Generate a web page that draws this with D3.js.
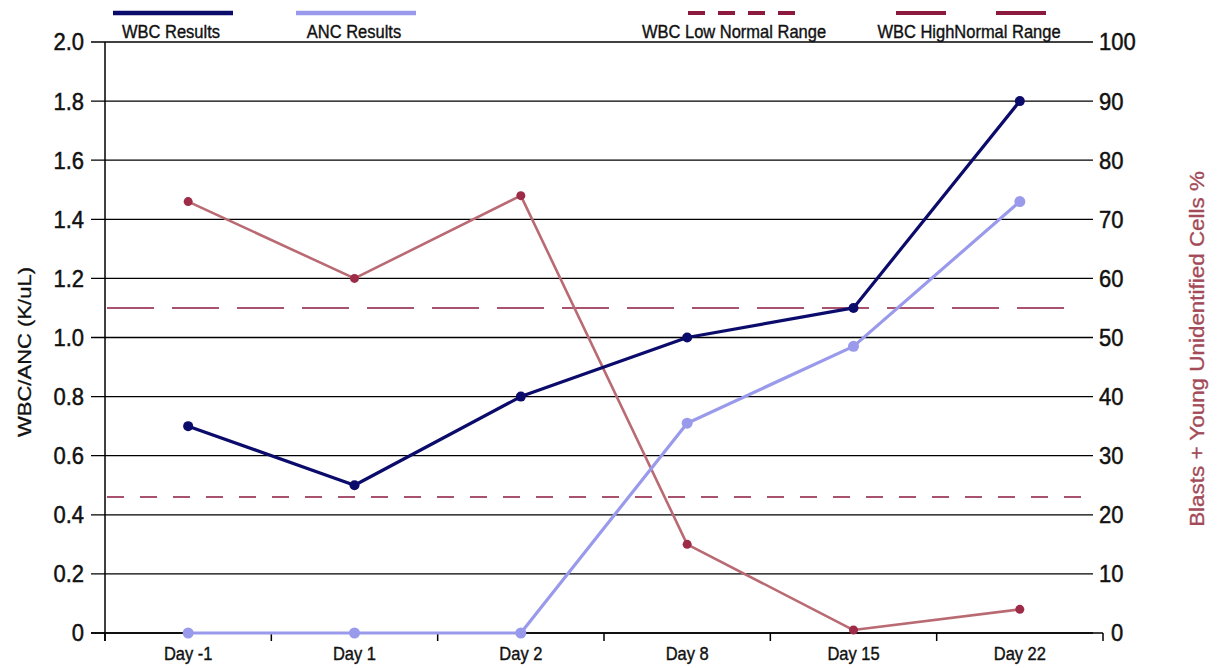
<!DOCTYPE html>
<html>
<head>
<meta charset="utf-8">
<script src="https://cdn.jsdelivr.net/npm/d3@7"></script>
<style>
  html, body { margin: 0; padding: 0; background: #fff; }
  svg { display: block; font-family: "Liberation Sans", Arial, sans-serif; }
</style>
</head>
<body>
<svg id="chart" width="1223" height="668"></svg>
<script>
// Categories and series
const days = ["Day -1", "Day 1", "Day 2", "Day 8", "Day 15", "Day 22"];
const wbc = [0.7, 0.5, 0.8, 1.0, 1.1, 1.8];
const anc = [0, 0, 0, 0.71, 0.97, 1.46];
const blasts = [73, 60, 74, 15, 0.5, 4];
const wbcLowNormal = 0.46;
const wbcHighNormal = 1.1;
const leftTicks = [0, 0.2, 0.4, 0.6, 0.8, 1.0, 1.2, 1.4, 1.6, 1.8, 2.0];
const rightTicks = [0, 10, 20, 30, 40, 50, 60, 70, 80, 90, 100];

const svg = d3.select("#chart");
const plotLeft = 105, plotRight = 1103, plotTop = 42, plotBottom = 633, gridEnd = 1093;

const x = d3.scaleBand().domain(days).range([plotLeft, plotRight]);
const yL = d3.scaleLinear().domain([0, 2]).range([plotBottom, plotTop]);
const yR = d3.scaleLinear().domain([0, 100]).range([plotBottom, plotTop]);
const cx = d => x(d) + x.bandwidth() / 2;

const cNavy = "#0b0b6b", cLight = "#9a9aec", cBlast = "#b96a73", cBlastPt = "#9e2b47", cRange = "#8c1a3e";

// Text helper: narrow, tall lettering via a scale transform, slightly heavier stroke
function label(parent, px, py, str, o) {
  const fill = o.fill || "#111";
  const g = parent.append("g")
    .attr("transform", `translate(${px},${py}) rotate(${o.rotate || 0}) scale(${o.sx || 1},${o.sy || 1})`);
  g.append("text").attr("text-anchor", o.anchor || "middle").attr("dy", o.dy || "0.35em")
    .attr("font-size", o.size).attr("fill", fill)
    .attr("stroke", fill).attr("stroke-width", o.stroke == null ? 0.45 : o.stroke)
    .text(str);
  return g;
}

// Horizontal gridlines (from left tick to right label side)
svg.append("g").selectAll("line").data(leftTicks).join("line")
  .attr("x1", plotLeft - 14).attr("x2", gridEnd)
  .attr("y1", d => yL(d)).attr("y2", d => yL(d))
  .attr("stroke", "#000").attr("stroke-width", 1.3);

// Left axis line and labels
svg.append("line").attr("x1", plotLeft).attr("x2", plotLeft)
  .attr("y1", yL(2)).attr("y2", plotBottom + 8).attr("stroke", "#000").attr("stroke-width", 1.5);
const gL = svg.append("g");
leftTicks.forEach(d => label(gL, 84, yL(d), d === 0 ? "0" : d3.format(".1f")(d),
  { size: 22, anchor: "end", sy: 1.1 }));

// Right axis labels
const gR = svg.append("g");
rightTicks.forEach(d => label(gR, d === 0 ? 1111 : 1099, yR(d), String(d),
  { size: 22, anchor: "start", sy: 1.1 }));

// Bottom axis with tick marks at band edges
const gB = svg.append("g").attr("transform", `translate(0,${plotBottom})`);
gB.append("line").attr("x1", plotLeft - 14).attr("x2", plotRight).attr("y1", 0).attr("y2", 0)
  .attr("stroke", "#000").attr("stroke-width", 1.5);
gB.selectAll("line.tk").data(d3.range(days.length + 1)).join("line").attr("class", "tk")
  .attr("x1", i => plotLeft + i * x.bandwidth()).attr("x2", i => plotLeft + i * x.bandwidth())
  .attr("y1", 0).attr("y2", 8).attr("stroke", "#000").attr("stroke-width", 1.5);
days.forEach(d => label(gB, cx(d), 20, d, { size: 16.5, sy: 1.15, stroke: 0.35 }));

// Normal range reference lines
svg.append("line").attr("x1", plotLeft + 2).attr("x2", gridEnd - 12)
  .attr("y1", yL(wbcHighNormal)).attr("y2", yL(wbcHighNormal))
  .attr("stroke", cRange).attr("stroke-width", 1.6).attr("stroke-dasharray", "47 18");
svg.append("line").attr("x1", plotLeft + 2).attr("x2", gridEnd - 12)
  .attr("y1", yL(wbcLowNormal)).attr("y2", yL(wbcLowNormal))
  .attr("stroke", cRange).attr("stroke-width", 1.6).attr("stroke-dasharray", "17 16");

// Series
function series(values, scale, lineColor, ptColor, width, r) {
  const line = d3.line().x((d, i) => cx(days[i])).y(d => scale(d));
  svg.append("path").datum(values).attr("d", line)
    .attr("fill", "none").attr("stroke", lineColor).attr("stroke-width", width)
    .attr("stroke-linejoin", "round");
  svg.append("g").selectAll("circle").data(values).join("circle")
    .attr("cx", (d, i) => cx(days[i])).attr("cy", d => scale(d)).attr("r", r)
    .attr("fill", ptColor);
}
series(blasts, yR, cBlast, cBlastPt, 2.6, 4.5);
series(anc, yL, cLight, cLight, 3.2, 5.5);
series(wbc, yL, cNavy, cNavy, 3.2, 5);

// Axis titles
label(svg, 24, 352, "WBC/ANC (K/uL)", { size: 19, rotate: -90, sx: 1.16, stroke: 0.3 });
label(svg, 1197, 349, "Blasts + Young Unidentified Cells %",
  { size: 19.5, rotate: -90, sx: 1.15, fill: "#a34a58", stroke: 0.3 });

// Legend
const legend = [
  { label: "WBC Results", x1: 113, x2: 233, tx: 171, color: cNavy, dash: null, w: 4.5 },
  { label: "ANC Results", x1: 296, x2: 416, tx: 354, color: cLight, dash: null, w: 4.5 },
  { label: "WBC Low Normal Range", x1: 688, x2: 795, tx: 734, color: cRange, dash: "17 13", w: 4 },
  { label: "WBC HighNormal Range", x1: 896, x2: 1046, tx: 969, color: cRange, dash: "50 50", w: 4 }
];
const lg = svg.append("g");
lg.selectAll("line").data(legend).join("line")
  .attr("x1", d => d.x1).attr("x2", d => d.x2).attr("y1", 13).attr("y2", 13)
  .attr("stroke", d => d.color).attr("stroke-width", d => d.w)
  .attr("stroke-dasharray", d => d.dash);
legend.forEach(d => label(lg, d.tx, 32, d.label, { size: 16.5, sy: 1.08, stroke: 0.35 }));
</script>
</body>
</html>
